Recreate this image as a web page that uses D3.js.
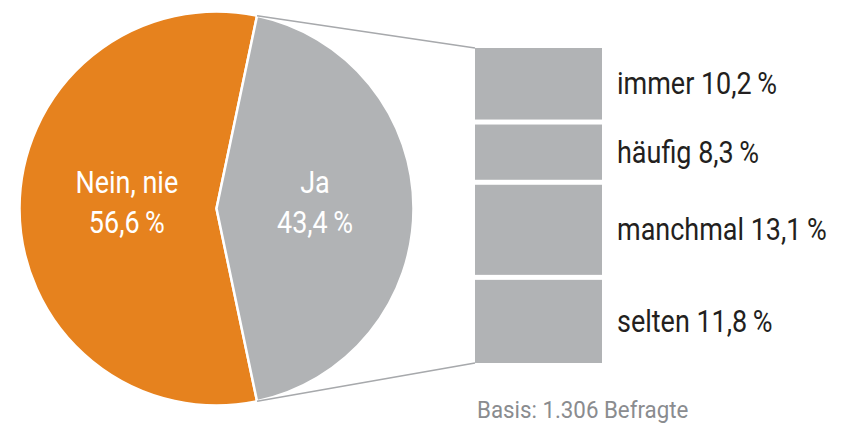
<!DOCTYPE html>
<html>
<head>
<meta charset="utf-8">
<script src="https://cdn.jsdelivr.net/npm/d3@7"></script>
<style>
  html, body { margin: 0; padding: 0; background: #fff; }
  svg { display: block; }
  text { font-family: Roboto, "Liberation Sans", sans-serif; }
</style>
</head>
<body>
<svg id="chart" width="846" height="424"></svg>
<script>
// Main split: have respondents ever done it?
const pieLabels = ["Nein, nie", "Ja"];
const pieValues = [56.6, 43.4];

// Breakdown of the "Ja" share
const breakdownLabels = ["immer", "häufig", "manchmal", "selten"];
const breakdownValues = [10.2, 8.3, 13.1, 11.8];

const noteText = "Basis: 1.306 Befragte";

const fmt = v => d3.format(".1f")(v).replace(".", ",") + "\u2009%";

const ORANGE = "#e6821e";
const GREY = "#b1b3b5";
const LINE = "#a7a9ac";
const INK = "#231f20";

const svg = d3.select("#chart");

// Text squeezed horizontally around its anchor point, imitating a condensed face
function label(parent, x, y, str, opts) {
  const grp = parent.append("g")
    .attr("transform", `translate(${x},${y}) scale(${opts.squeeze},1)`);
  return grp.append("text")
    .attr("text-anchor", opts.anchor || "start")
    .attr("font-size", opts.size)
    .attr("fill", opts.fill)
    .text(str);
}

// ---- pie ----
const cx = 216.5, cy = 208.5, R = 197;
const jaShare = pieValues[1] / d3.sum(pieValues);
const start = Math.PI / 2 + jaShare * Math.PI;   // centres the "Ja" slice on the right
const pie = d3.pie().sort(null).startAngle(start).endAngle(start + 2 * Math.PI);
const arcs = pie(pieValues);
const arc = d3.arc().innerRadius(0).outerRadius(R);

const g = svg.append("g").attr("transform", `translate(${cx},${cy})`);
g.selectAll("path.slice")
  .data(arcs)
  .join("path")
  .attr("class", "slice")
  .attr("d", arc)
  .attr("fill", (d, i) => i === 0 ? ORANGE : GREY)
  .attr("stroke", "#fff")
  .attr("stroke-width", 2.5)
  .attr("stroke-linejoin", "miter");

const labelFrac = [0.455, 0.5];
arcs.forEach((d, i) => {
  const lr = R * labelFrac[i];
  const [lx, ly] = d3.arc().innerRadius(lr).outerRadius(lr).centroid(d);
  const o = { anchor: "middle", size: 31, fill: "#fff", squeeze: 0.87 };
  label(g, lx, ly - 16, pieLabels[i], o);
  label(g, lx, ly + 24, fmt(pieValues[i]), o);
});

// ---- breakdown bar ----
const barX = 475, barW = 127, gap = 5;
const y = d3.scaleLinear().domain([0, d3.sum(breakdownValues)]).range([48, 363]);
const cum = d3.cumsum([0, ...breakdownValues]);
const segs = breakdownValues.map((v, i) => ({
  label: breakdownLabels[i], value: v,
  y0: y(cum[i]) + (i > 0 ? gap / 2 : 0),
  y1: y(cum[i + 1]) - (i < breakdownValues.length - 1 ? gap / 2 : 0)
}));

svg.selectAll("rect.seg")
  .data(segs)
  .join("rect")
  .attr("class", "seg")
  .attr("x", barX)
  .attr("y", d => d.y0)
  .attr("width", barW)
  .attr("height", d => d.y1 - d.y0)
  .attr("fill", GREY);

segs.forEach(d => {
  label(svg, 617, (d.y0 + d.y1) / 2 + 10.5, `${d.label} ${fmt(d.value)}`,
    { size: 31, fill: INK, squeeze: 0.87 });
});

// ---- connectors from the "Ja" slice edges to the bar ----
const ja = arcs[1];
const edge = a => [cx + R * Math.sin(a), cy - R * Math.cos(a)];
const pTop = edge(ja.startAngle), pBot = edge(ja.endAngle);
svg.append("line")
  .attr("x1", pTop[0]).attr("y1", pTop[1]).attr("x2", barX).attr("y2", y.range()[0])
  .attr("stroke", LINE).attr("stroke-width", 1.5);
svg.append("line")
  .attr("x1", pBot[0]).attr("y1", pBot[1]).attr("x2", barX).attr("y2", y.range()[1])
  .attr("stroke", LINE).attr("stroke-width", 1.5);

// ---- footnote ----
label(svg, 477, 418, noteText, { size: 24, fill: "#8a8c8f", squeeze: 0.93 });
</script>
</body>
</html>
